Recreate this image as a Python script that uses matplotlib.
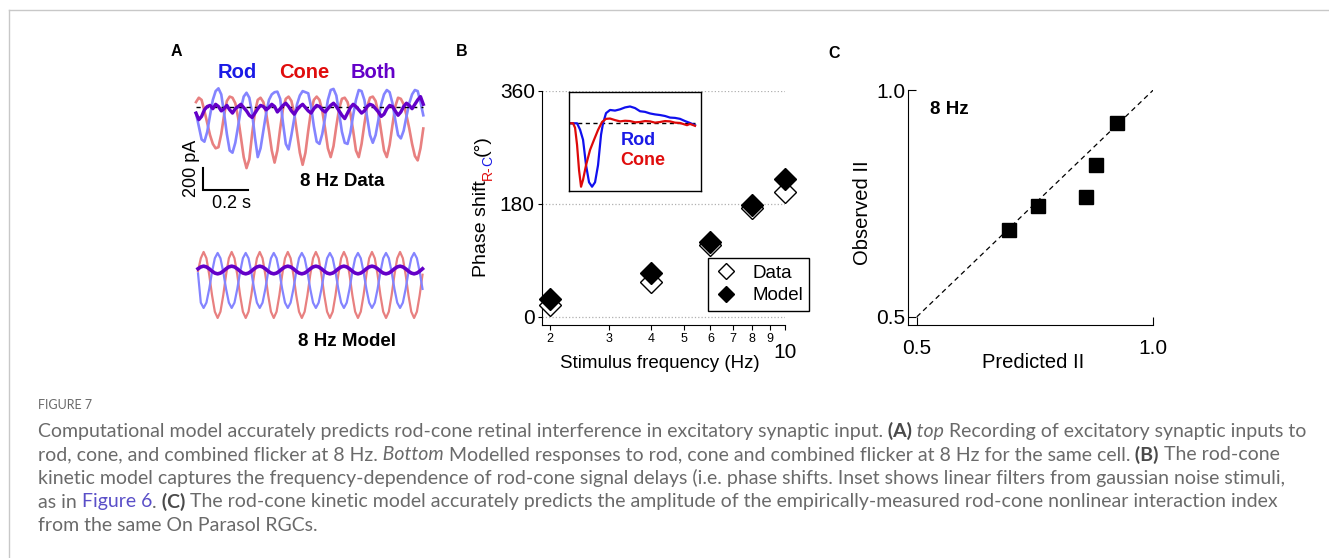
import numpy as np
import matplotlib
matplotlib.use('Agg')
import matplotlib.pyplot as plt
from matplotlib.lines import Line2D
from matplotlib.ticker import FixedLocator, NullLocator

plt.rcParams['font.family'] = ['Liberation Sans', 'DejaVu Sans']

W, H = 1329, 558

# ---- panel A: recorded responses at 8 Hz (pA), one sample every 12.5 ms
dt_data = 0.0125
rod_data = [-60, -180, -300, -320, -230, -80, 60, 140, 165, 110,
            -60, -250, -400, -420, -330, -180, -20, 90, 125, 80,
            -60, -280, -460, -380, -220, -60, 60, 110, 130, 135,
            70, -150, -340, -390, -260, -110, 20, 100, 140, 130,
            120, 0, -180, -320, -340, -250, -100, 60, 150, 160,
            100, -60, -230, -330, -340, -240, -80, 60, 150, 140,
            60, -100, -260, -330, -260, -120, 20, 110, 150, 130,
            30, -120, -260, -290, -220, -90, 30, 110, 150, 140,
            40, -80]
cone_data = [40, 80, 60, -40, -150, -260, -340, -380, -370, -250,
             -80, 50, 90, 80, 30, -100, -280, -460, -560, -480,
             -250, -50, 60, 80, 40, -60, -220, -400, -510, -400,
             -200, -20, 70, 90, 50, -60, -240, -420, -530, -420,
             -220, -40, 60, 90, 60, -40, -200, -380, -460, -360,
             -180, -20, 70, 80, 40, -60, -220, -400, -460, -340,
             -160, 0, 80, 90, 50, -60, -230, -400, -460, -350,
             -170, 0, 80, 70, 20, -80, -200, -340, -450, -490,
             -380, -200]
both_data = [-60, -120, -90, -30, 0, 10, -20, 20, 0, -40,
             -20, 10, -30, -60, -20, 0, 20, -10, -40, -80,
             -100, -60, -20, 10, 0, -30, -10, 20, 0, -50,
             -20, 10, 30, 0, -40, -70, -30, 0, 20, -10,
             -40, -60, -20, 10, 0, -30, -50, -20, 10, 30,
             0, -40, -80, -110, -60, -10, 20, 0, -30, -60,
             -40, 0, 20, 10, -20, -50, -90, -70, -20, 10,
             0, -40, -80, -50, 0, 30, 10, -20, 20, 60,
             90, 20]

# ---- panel A: model responses at 8 Hz
dt_model = 0.0125
cone_model = [-10, 107, 164, 107, -43, -229, -379, -436, -379, -229,
              -43, 107, 164, 107, -43, -229, -379, -436, -379, -229,
              -43, 107, 164, 107, -43, -229, -379, -436, -379, -229,
              -43, 107, 164, 107, -43, -229, -379, -436, -379, -229,
              -43, 107, 164, 107, -43, -229, -379, -436, -379, -229,
              -43, 107, 164, 107, -43, -229, -379, -436, -379, -229,
              -43, 107, 164, 107, -43, -229, -379, -436, -379, -229,
              -43, 107, 164, 107, -43, -229, -379, -436, -379, -229,
              -43]
rod_model = [-30, -297, -345, -297, -172, -18, 107, 155, 107, -18,
             -172, -297, -345, -297, -172, -18, 107, 155, 107, -18,
             -172, -297, -345, -297, -172, -18, 107, 155, 107, -18,
             -172, -297, -345, -297, -172, -18, 107, 155, 107, -18,
             -172, -297, -345, -297, -172, -18, 107, 155, 107, -18,
             -172, -297, -345, -297, -172, -18, 107, 155, 107, -18,
             -172, -297, -345, -297, -172, -18, 107, 155, 107, -18,
             -172, -297, -345, -297, -172, -18, 107, 155, 107, -18,
             -172]
both_model = [11, 28, 35, 28, 11, -11, -28, -35, -28, -11,
              11, 28, 35, 28, 11, -11, -28, -35, -28, -11,
              11, 28, 35, 28, 11, -11, -28, -35, -28, -11,
              11, 28, 35, 28, 11, -11, -28, -35, -28, -11,
              11, 28, 35, 28, 11, -11, -28, -35, -28, -11,
              11, 28, 35, 28, 11, -11, -28, -35, -28, -11,
              11, 28, 35, 28, 11, -11, -28, -35, -28, -11,
              11, 28, 35, 28, 11, -11, -28, -35, -28, -11,
              11]

# ---- panel B: phase shift vs frequency
freqs = [2, 4, 6, 8, 10]
phase_data = [19, 56, 114, 173, 199]
phase_model = [29, 69, 119, 178, 219]
freq_ticks = [2, 3, 4, 5, 6, 7, 8, 9, 10]
freq_labels = ['2', '3', '4', '5', '6', '7', '8', '9', '']
phase_ticks = [0, 180, 360]

# inset: linear filters (time in ms, normalised amplitude)
rod_filt_t = [0, 14, 20, 26, 32, 38, 44, 50, 56, 62, 66, 72, 80, 90, 100, 110,
              120, 130, 140, 150, 160, 170, 180, 190, 200, 210, 220, 230, 240, 250]
rod_filt = [0, 0, -0.1, -0.26, -0.66, -0.93, -1.0, -0.93, -0.66, -0.18, 0, 0.16,
            0.21, 0.2, 0.22, 0.25, 0.265, 0.24, 0.19, 0.18, 0.155, 0.14, 0.13,
            0.115, 0.09, 0.085, 0.07, 0.035, 0.005, -0.03]
cone_filt_t = [0, 6, 10, 14, 18, 22, 26, 32, 40, 48, 56, 64, 72, 80, 90, 100,
               110, 120, 130, 140, 150, 160, 170, 180, 190, 200, 210, 220, 234, 240, 250]
cone_filt = [0, 0, -0.07, -0.34, -0.74, -1.0, -0.89, -0.66, -0.42, -0.26, -0.105,
             0.02, 0.07, 0.075, 0.05, 0.03, 0.04, 0.035, 0.015, 0.02, 0.035, 0.03,
             0.01, 0.02, 0.035, 0.03, 0.01, 0.005, -0.03, -0.01, -0.04]

# ---- panel C: interaction index
predicted = [0.694, 0.757, 0.857, 0.879, 0.924]
observed = [0.691, 0.745, 0.764, 0.835, 0.927]
unity = [0.5, 1.0]

# ---- caption
caption = [
    [("Computational model accurately predicts rod-cone retinal interference in excitatory synaptic input.", 'n'),
     (" (A)", 'b'), (" top", 'i'), (" Recording of excitatory synaptic inputs to", 'n')],
    [("rod, cone, and combined flicker at 8 Hz.", 'n'), (" Bottom", 'i'),
     (" Modelled responses to rod, cone and combined flicker at 8 Hz for the same cell.", 'n'),
     (" (B)", 'b'), (" The rod-cone", 'n')],
    [("kinetic model captures the frequency-dependence of rod-cone signal delays (i.e. phase shifts. "
      "Inset shows linear filters from gaussian noise stimuli,", 'n')],
    [("as in", 'n'), (" Figure 6", 'l'), (".", 'n'), (" (C)", 'b'),
     (" The rod-cone kinetic model accurately predicts the amplitude of the empirically-measured "
      "rod-cone nonlinear interaction index", 'n')],
    [("from the same On Parasol RGCs.", 'n')],
]

ROD_LIGHT = '#8484ff'
CONE_LIGHT = '#e88080'
PURPLE = '#6400c8'
BLUE = '#1a1ae6'
RED = '#e00d0d'


def rect(x0, y0, x1, y1):
    return [x0 / W, 1 - y1 / H, (x1 - x0) / W, (y1 - y0) / H]


fig = plt.figure(figsize=(W / 100, H / 100), dpi=100)

bg = fig.add_axes([0, 0, 1, 1])
bg.set_xlim(0, W)
bg.set_ylim(H, 0)
bg.axis('off')
bg.plot([8.5, 8.5], [9.5, H], color='#c8c8c8', lw=1)
bg.plot([8.5, W], [9.5, 9.5], color='#c8c8c8', lw=1)

# panel letters
for lab, x, y in [('A', 176, 51), ('B', 462, 52), ('C', 834, 53)]:
    bg.text(x, y, lab, fontsize=11.5, weight='bold', ha='center', va='center')

# ---------------- panel A top (data)
pps = 224.5          # px per second
ppa = 0.11           # px per pA
axA = fig.add_axes(rect(190, 80, 430, 215))
axA.set_facecolor('none')
axA.axis('off')
axA.set_xlim((190 - 196) / pps, (430 - 196) / pps)
axA.set_ylim(-(215 - 106.5) / ppa, (106.5 - 80) / ppa)
t_data = np.arange(len(rod_data)) * dt_data
axA.plot(t_data, cone_data, color=CONE_LIGHT, lw=1.9)
axA.plot(t_data, rod_data, color=ROD_LIGHT, lw=1.9)
axA.plot([t_data[0], t_data[-1]], [0, 0], color='black', lw=1, ls=(0, (3, 3)))
axA.plot(t_data, both_data, color=PURPLE, lw=2.4)
# scale bar 0.2 s / 200 pA
sb_t, sb_y = 0.031, -760
axA.plot([sb_t, sb_t, sb_t + 0.2], [sb_y + 200, sb_y, sb_y], color='black', lw=1.5,
         solid_joinstyle='miter')

bg.text(237, 73, 'Rod', color=BLUE, fontsize=14.5, weight='bold', ha='center', va='center')
bg.text(304, 73, 'Cone', color=RED, fontsize=14.5, weight='bold', ha='center', va='center')
bg.text(373, 73, 'Both', color=PURPLE, fontsize=14.5, weight='bold', ha='center', va='center')
bg.text(192, 168, '200 pA', rotation=90, fontsize=13, ha='center', va='center')
bg.text(232, 204, '0.2 s', fontsize=13, ha='center', va='center')
bg.text(342.5, 181, '8 Hz Data', fontsize=13.5, weight='bold', ha='center', va='center')

# ---------------- panel A bottom (model)
axM = fig.add_axes(rect(190, 240, 430, 330))
axM.set_facecolor('none')
axM.axis('off')
axM.set_xlim((190 - 198) / pps, (430 - 198) / pps)
axM.set_ylim(-(330 - 270) / ppa, (270 - 240) / ppa)
t_model = np.arange(len(cone_model)) * dt_model
axM.plot(t_model, cone_model, color=CONE_LIGHT, lw=1.6)
axM.plot(t_model, rod_model, color=ROD_LIGHT, lw=1.6)
axM.plot(t_model, both_model, color=PURPLE, lw=2.6)
bg.text(347, 341, '8 Hz Model', fontsize=13.5, weight='bold', ha='center', va='center')

# ---------------- panel B
axB = fig.add_axes(rect(541.7, 90.7, 785, 325))
axB.set_facecolor('none')
axB.set_xscale('log')
axB.set_xlim(1.889, 10)
axB.set_ylim(-13.2, 360)
for s in ['top', 'right']:
    axB.spines[s].set_visible(False)
for s in ['left', 'bottom']:
    axB.spines[s].set_linewidth(0.8)
axB.xaxis.set_major_locator(FixedLocator(freq_ticks))
axB.xaxis.set_minor_locator(NullLocator())
axB.set_xticklabels(freq_labels)
axB.set_yticks(phase_ticks)
axB.set_yticklabels([str(v) for v in phase_ticks])
axB.tick_params(axis='x', length=3.6, width=0.8, labelsize=9, pad=2.5)
axB.tick_params(axis='y', length=3, width=0.8, labelsize=15, pad=2)
axB.yaxis.grid(True, ls=':', color='#b0b0b0', lw=0.9)
axB.annotate('10', xy=(10, 0), xycoords=('data', 'axes fraction'), xytext=(0, -20),
             textcoords='offset points', ha='center', va='center', fontsize=15)
axB.plot(freqs, phase_data, ls='none', marker='D', ms=11, mfc='white', mec='black',
         mew=1, clip_on=False, zorder=3)
axB.plot(freqs, phase_model, ls='none', marker='D', ms=11, color='black',
         clip_on=False, zorder=4)

handles = [Line2D([], [], ls='none', marker='D', ms=8, mfc='white', mec='black', mew=1),
           Line2D([], [], ls='none', marker='D', ms=8, color='black')]
leg = fig.legend(handles, ['Data', 'Model'], loc='upper left',
                 bbox_to_anchor=(708 / W, 1 - 258 / H), borderaxespad=0,
                 fontsize=13.5, frameon=True, fancybox=False, edgecolor='black',
                 framealpha=1, handlelength=1.2, handletextpad=0.8,
                 borderpad=0.35, labelspacing=0.3)
leg.get_frame().set_linewidth(1.0)

bg.text(660, 363, 'Stimulus frequency (Hz)', fontsize=13.5, ha='center', va='center')
t1 = bg.text(482, 277, 'Phase shift', rotation=90, fontsize=14, ha='center', va='bottom')
t2 = bg.annotate('R-', xy=(0.5, 1), xycoords=t1, xytext=(4.5, 0), textcoords='offset points',
                 rotation=90, fontsize=10, color=RED, ha='center', va='bottom')
t3 = bg.annotate('C', xy=(0.5, 1), xycoords=t2, rotation=90, fontsize=10, color=BLUE,
                 ha='center', va='bottom')
bg.annotate('(°)', xy=(0.5, 1), xycoords=(t1, t3), rotation=90, fontsize=14,
            ha='center', va='bottom')

# inset with filters
axI = fig.add_axes(rect(569.3, 91.7, 701, 190.7))
axI.set_facecolor('white')
axI.set_xticks([])
axI.set_yticks([])
for s in axI.spines.values():
    s.set_linewidth(1.0)
axI.set_xlim(-1.5, 262)
axI.set_ylim(-1.063, 0.498)
axI.plot([0, 250], [0, 0], color='black', lw=1, ls=(0, (3, 2.5)))
axI.plot(rod_filt_t, rod_filt, color='#1010ee', lw=1.6)
axI.plot(cone_filt_t, cone_filt, color='#dd0a0a', lw=1.6)
axI.text(0.522, 0.512, 'Rod', transform=axI.transAxes, color=BLUE, fontsize=13,
         weight='bold', ha='center', va='center')
axI.text(0.56, 0.303, 'Cone', transform=axI.transAxes, color=RED, fontsize=13,
         weight='bold', ha='center', va='center')

# ---------------- panel C
axC = fig.add_axes(rect(908.3, 90, 1153.3, 325))
axC.set_facecolor('none')
axC.set_xlim(0.482, 1.0)
axC.set_ylim(0.482, 1.0)
for s in ['top', 'right']:
    axC.spines[s].set_visible(False)
for s in ['left', 'bottom']:
    axC.spines[s].set_linewidth(0.8)
axC.set_xticks(unity)
axC.set_yticks(unity)
axC.set_xticklabels(['0.5', '1.0'])
axC.set_yticklabels(['0.5', '1.0'])
axC.tick_params(direction='in', length=6, width=0.8, labelsize=15)
axC.tick_params(axis='x', pad=10)
axC.tick_params(axis='y', pad=2)
axC.plot(unity, unity, color='black', lw=0.9, ls=(0, (4, 3)))
axC.plot(predicted, observed, ls='none', marker='s', ms=10, color='black', clip_on=False)
axC.text(0.089, 0.915, '8 Hz', transform=axC.transAxes, fontsize=13.5, weight='bold',
         ha='left', va='center')
bg.text(1033, 362, 'Predicted II', fontsize=14.5, ha='center', va='center')
bg.text(862, 213, 'Observed II', fontsize=14.5, rotation=90, ha='center', va='center')

# ---------------- caption
CAP_FONT = ['Lato', 'DejaVu Sans']
CAP_FS = 14
CAP_COL = '#6a6a6a'


def cap_style(kind):
    st = dict(fontsize=CAP_FS, color=CAP_COL, family=CAP_FONT)
    if kind == 'b':
        st.update(weight='bold', color='#4a4a4a')
    elif kind == 'i':
        st.update(style='italic')
    elif kind == 'l':
        st.update(color='#5a4fc8')
    return st


bg.text(38, 409, 'FIGURE 7', fontsize=9, color=CAP_COL, family=CAP_FONT, va='baseline')
baselines = [437, 460.5, 484, 507.5, 531]
for parts, yb in zip(caption, baselines):
    prev = bg.text(38, yb, parts[0][0], va='baseline', ha='left', **cap_style(parts[0][1]))
    for txt, kind in parts[1:]:
        prev = bg.annotate(txt, xy=(1, yb), xycoords=(prev, 'data'), va='baseline',
                           ha='left', **cap_style(kind))

fig.savefig('out.png', dpi=100)
